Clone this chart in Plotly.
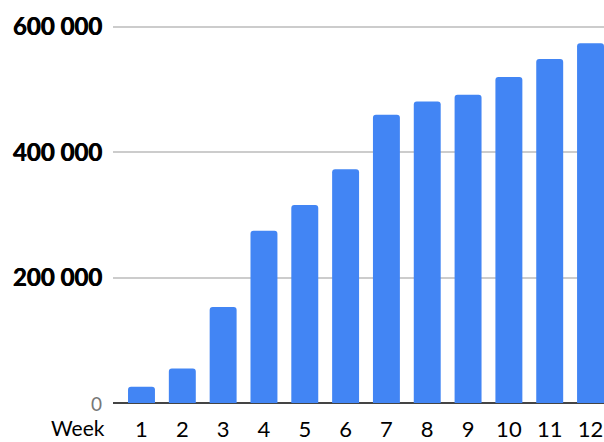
import plotly.graph_objects as go

weeks = [1, 2, 3, 4, 5, 6, 7, 8, 9, 10, 11, 12]
values = [26000, 55000, 153000, 275000, 316000, 373000, 460000, 481000, 492000, 520000, 549000, 574000]
y_ticks = [0, 200000, 400000, 600000]
y_tick_text = ["", "200 000", "400 000", "600 000"]
zero_label = "0"
x_axis_title = "Week"

FONT = "Lato, 'Open Sans', sans-serif"

fig = go.Figure(go.Bar(
    x=weeks,
    y=values,
    width=0.66,
    marker=dict(color="#4285F4", cornerradius=3, line=dict(width=0)),
))

fig.update_layout(
    width=604,
    height=442,
    margin=dict(l=113, r=0, t=0, b=39),
    paper_bgcolor="white",
    plot_bgcolor="white",
    showlegend=False,
    font=dict(family=FONT, size=22, color="black"),
    xaxis=dict(
        range=[0.302, 12.33],
        tickvals=weeks,
        ticktext=[str(w) for w in weeks],
        showgrid=False,
        zeroline=False,
        showline=False,
        ticks="",
        ticklabelstandoff=11,
        tickfont=dict(family=FONT, size=22, color="black"),
    ),
    yaxis=dict(
        range=[0, 643000],
        tickvals=y_ticks,
        ticktext=y_tick_text,
        showgrid=True,
        gridcolor="#cccccc",
        gridwidth=1.5,
        zeroline=True,
        zerolinecolor="#444444",
        zerolinewidth=1.5,
        showline=False,
        ticks="",
        ticklabelstandoff=10,
        tickfont=dict(family=FONT, size=24, color="black", weight="bold",
                      shadow="0.7px 0 0 #000"),
    ),
    annotations=[
        # light, regular-weight label for the baseline value
        dict(
            text=zero_label,
            xref="paper", yref="y",
            x=0, y=0,
            xanchor="right", yanchor="middle",
            xshift=-9,
            showarrow=False,
            font=dict(family=FONT, size=19, color="#777777"),
        ),
        dict(
            text=x_axis_title,
            xref="paper", yref="paper",
            x=-0.0704, y=0,
            xanchor="center", yanchor="bottom",
            yshift=-39,
            showarrow=False,
            font=dict(family=FONT, size=21, color="black"),
        ),
    ],
)

fig.write_html("out.html")
